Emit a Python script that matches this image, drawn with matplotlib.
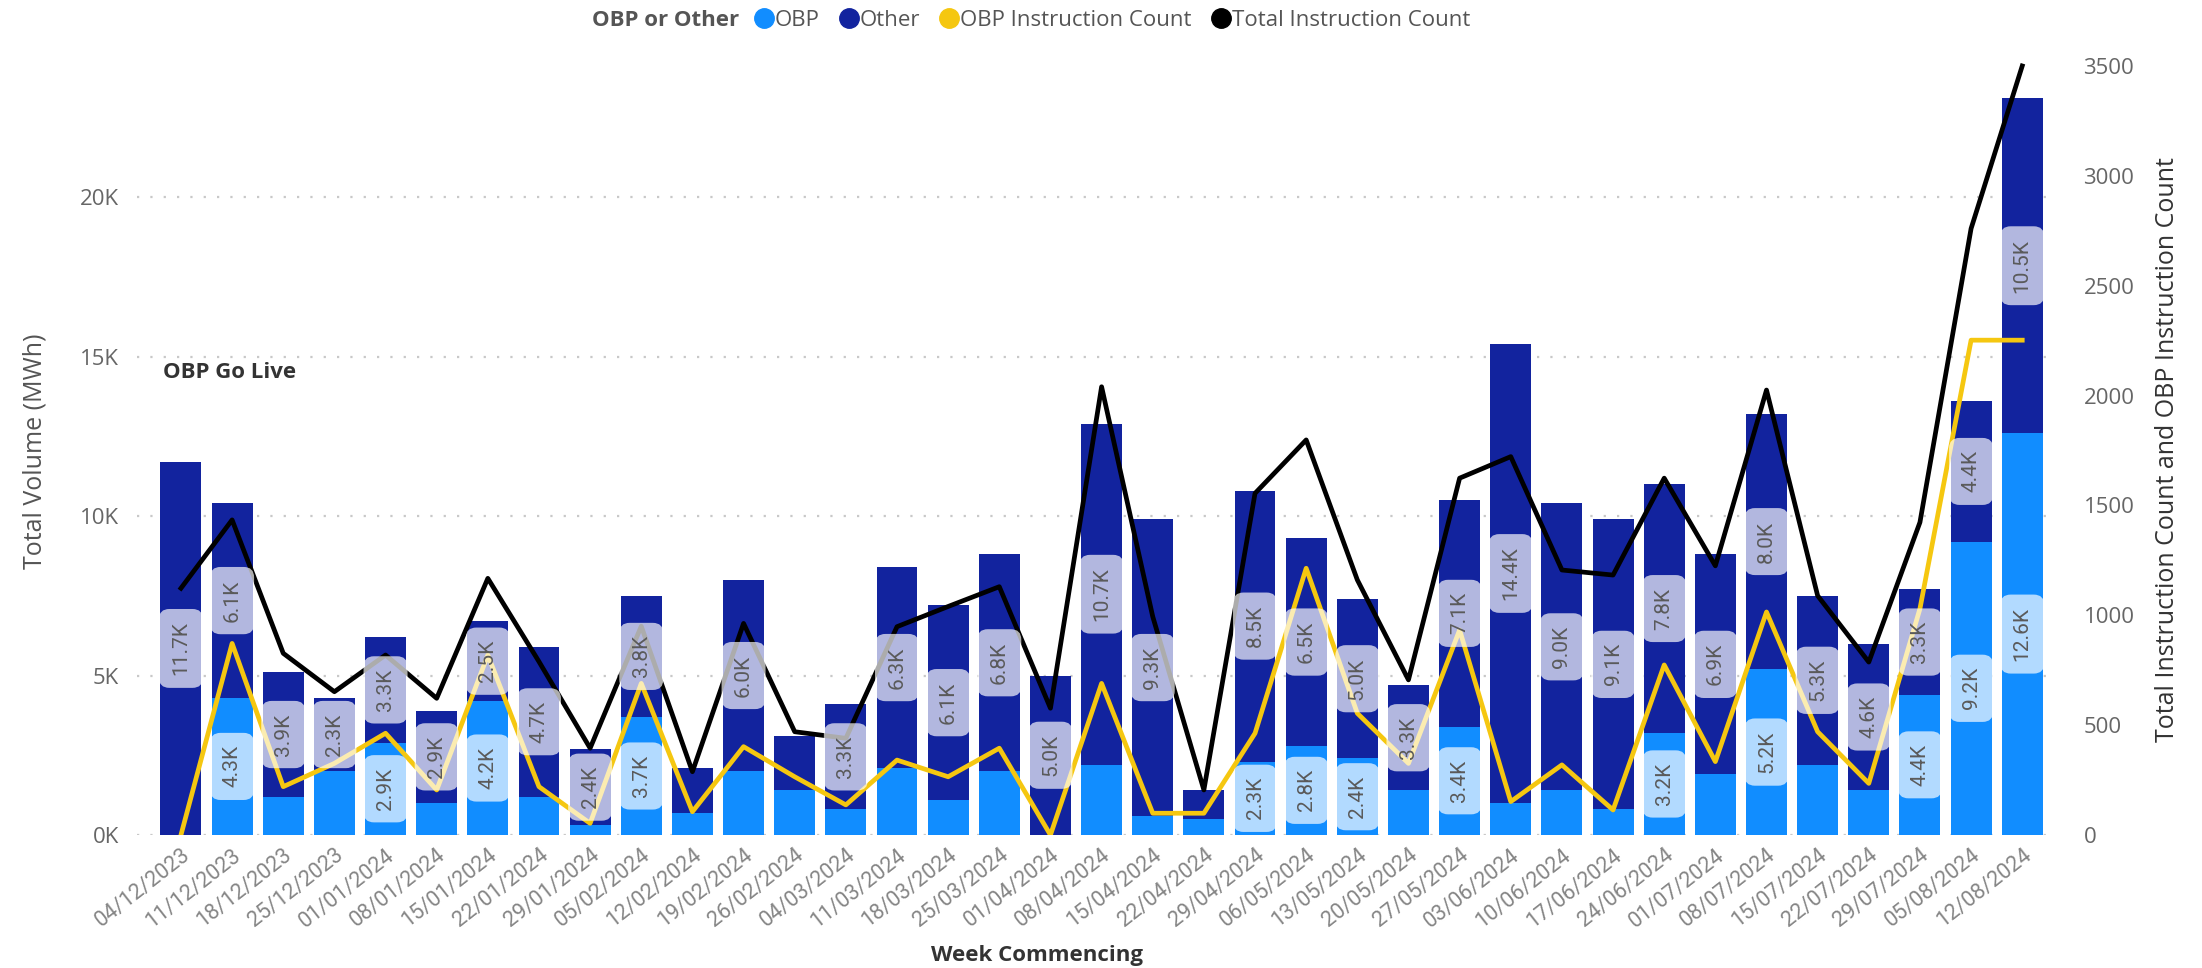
import numpy as np
import matplotlib.pyplot as plt
from matplotlib.lines import Line2D

plt.rcParams['font.family'] = ['Open Sans', 'DejaVu Sans']

# week commencing dates
weeks = ['04/12/2023', '11/12/2023', '18/12/2023', '25/12/2023', '01/01/2024', '08/01/2024',
         '15/01/2024', '22/01/2024', '29/01/2024', '05/02/2024', '12/02/2024', '19/02/2024',
         '26/02/2024', '04/03/2024', '11/03/2024', '18/03/2024', '25/03/2024', '01/04/2024',
         '08/04/2024', '15/04/2024', '22/04/2024', '29/04/2024', '06/05/2024', '13/05/2024',
         '20/05/2024', '27/05/2024', '03/06/2024', '10/06/2024', '17/06/2024', '24/06/2024',
         '01/07/2024', '08/07/2024', '15/07/2024', '22/07/2024', '29/07/2024', '05/08/2024',
         '12/08/2024']

# volume (MWh)
obp = [0, 4300, 1200, 2000, 2900, 1000, 4200, 1200, 300, 3700, 700, 2000,
       1400, 800, 2100, 1100, 2000, 0, 2200, 600, 500, 2300, 2800, 2400,
       1400, 3400, 1000, 1400, 800, 3200, 1900, 5200, 2200, 1400, 4400, 9200,
       12600]
other = [11700, 6100, 3900, 2300, 3300, 2900, 2500, 4700, 2400, 3800, 1400, 6000,
         1700, 3300, 6300, 6100, 6800, 5000, 10700, 9300, 900, 8500, 6500, 5000,
         3300, 7100, 14400, 9000, 9100, 7800, 6900, 8000, 5300, 4600, 3300, 4400,
         10500]

# instruction counts
obp_count = [0, 872, 220, 326, 463, 205, 819, 220, 53, 690, 106, 402,
             265, 137, 341, 265, 395, 0, 690, 99, 99, 463, 1214, 554,
             326, 933, 152, 319, 114, 774, 334, 1015, 470, 235, 1030, 2252,
             2252]
total_count = [1123, 1434, 827, 652, 819, 622, 1168, 789, 395, 950, 288, 963,
               470, 440, 948, 1040, 1130, 577, 2040, 994, 205, 1555, 1798, 1161,
               706, 1624, 1722, 1206, 1183, 1624, 1225, 2025, 1089, 787, 1423, 2760,
               3500]

c_obp = '#118DFF'
c_other = '#12239E'
c_yellow = '#F5C710'

fig = plt.figure(figsize=(22.02, 9.68), dpi=100)
ax = fig.add_axes([0.0622, 0.1374, 0.8701, 0.8006])
x = np.arange(len(weeks))
obp_a = np.array(obp)
other_a = np.array(other)

ax.bar(x, obp_a, width=0.8, color=c_obp, zorder=2)
ax.bar(x, other_a, bottom=obp_a, width=0.8, color=c_other, zorder=2)
ax.set_xlim(-0.86, 36.6)
ax.set_ylim(0, 24300)
ax.set_yticks([0, 5000, 10000, 15000, 20000])
ax.set_yticklabels(['0K', '5K', '10K', '15K', '20K'])
ax.yaxis.grid(True, linestyle=(0, (1, 5)), color='#c8c8c8', lw=1.6)
ax.set_axisbelow(True)
ax.set_xticks(x)
ax.set_xticklabels(weeks, rotation=38, ha='right', va='top', rotation_mode='anchor',
                   fontsize=15.5, color='#858585', family='Roboto')
ax.tick_params(axis='x', length=0, pad=7)
ax.tick_params(axis='y', length=0, pad=13, labelsize=16, labelcolor='#666666')
for s in ax.spines.values():
    s.set_visible(False)

ax2 = ax.twinx()
ax2.plot(x, obp_count, color=c_yellow, lw=3.4, zorder=3)
ax2.plot(x, total_count, color='black', lw=3.4, zorder=3)
ax2.set_ylim(0, 3527)
ax2.set_yticks(range(0, 3501, 500))
ax2.tick_params(axis='y', length=0, pad=22, labelsize=16, labelcolor='#666666')
for s in ax2.spines.values():
    s.set_visible(False)

# data labels (hidden when the segment is too small, like Power BI does)
box = dict(boxstyle='round,pad=0.6,rounding_size=0.5', fc='white', ec='none', alpha=0.68)
for i in range(len(weeks)):
    if obp[i] >= 2300:
        ax2.text(x[i], obp[i] / 2, f'{obp[i] / 1000:.1f}K', transform=ax.transData,
                 rotation=90, ha='center', va='center', fontsize=15, color='#5a5a5a',
                 family='Roboto', bbox=box, zorder=5)
    if other[i] >= 2300:
        ax2.text(x[i], obp[i] + other[i] / 2, f'{other[i] / 1000:.1f}K', transform=ax.transData,
                 rotation=90, ha='center', va='center', fontsize=15, color='#5a5a5a',
                 family='Roboto', bbox=box, zorder=5)

ax.text(-0.35, 14500, 'OBP Go Live', fontsize=16, fontweight='bold', color='#333333',
        ha='left', va='center')

fig.text(35 / 2202, 0.534, 'Total Volume (MWh)', rotation=90, ha='center', va='center',
         fontsize=18, color='#555555')
fig.text(2168 / 2202, 0.536, 'Total Instruction Count and OBP Instruction Count', rotation=90,
         ha='center', va='center', fontsize=18, color='#333333')
fig.text(1037 / 2202, 0.0134, 'Week Commencing', ha='center', va='center', fontsize=16,
         fontweight='bold', color='#333333')

# legend
fig.text(592 / 2202, 0.979, 'OBP or Other', ha='left', va='center', fontsize=16,
         fontweight='bold', color='#555555')
handles = [Line2D([], [], ls='none', marker='o', ms=14, color=c) for c in [c_obp, c_other, c_yellow, 'black']]
fig.legend(handles, ['OBP', 'Other', 'OBP Instruction Count', 'Total Instruction Count'],
           loc='center left', bbox_to_anchor=(756 / 2202, 0.979), ncol=4, frameon=False,
           handlelength=0.7, handletextpad=0.15, columnspacing=0.95, fontsize=16,
           labelcolor='#555555', borderaxespad=0, borderpad=0)

fig.savefig('out.png', dpi=100)
